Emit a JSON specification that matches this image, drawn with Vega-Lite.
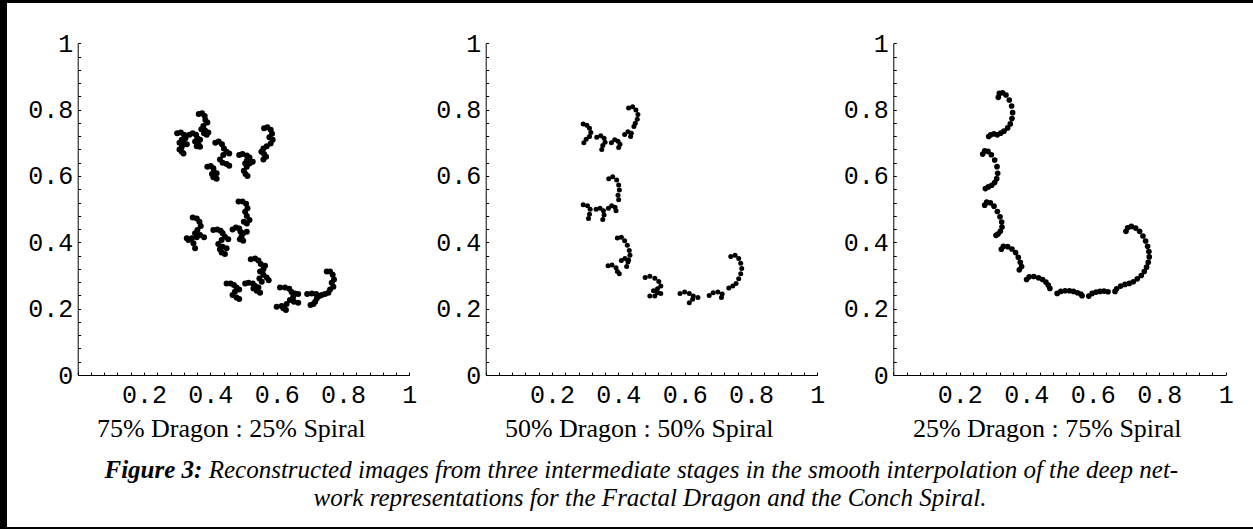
{
  "$schema": "https://vega.github.io/schema/vega-lite/v6.json",
  "width": 1246,
  "height": 524,
  "autosize": {"type": "none"},
  "padding": {"left": 7, "top": 3, "right": 0, "bottom": 2},
  "background": "black",
  "config": {"view": {"fill": "white", "stroke": null}},
  "data": {"values": [
    {"panel":1,"x":0.300,"y":0.729},{"panel":1,"x":0.311,"y":0.731},{"panel":1,"x":0.321,"y":0.724},{"panel":1,"x":0.325,"y":0.714},{"panel":1,"x":0.314,"y":0.709},{"panel":1,"x":0.307,"y":0.700},{"panel":1,"x":0.319,"y":0.698},{"panel":1,"x":0.329,"y":0.696},{"panel":1,"x":0.314,"y":0.688},{"panel":1,"x":0.307,"y":0.680},{"panel":1,"x":0.314,"y":0.673},{"panel":1,"x":0.319,"y":0.668},
    {"panel":1,"x":0.337,"y":0.724},{"panel":1,"x":0.347,"y":0.729},{"panel":1,"x":0.357,"y":0.724},{"panel":1,"x":0.361,"y":0.714},{"panel":1,"x":0.369,"y":0.709},{"panel":1,"x":0.354,"y":0.704},{"panel":1,"x":0.364,"y":0.696},{"panel":1,"x":0.369,"y":0.688},{"panel":1,"x":0.359,"y":0.690},
    {"panel":1,"x":0.365,"y":0.787},{"panel":1,"x":0.375,"y":0.789},{"panel":1,"x":0.383,"y":0.781},{"panel":1,"x":0.385,"y":0.769},{"panel":1,"x":0.391,"y":0.761},{"panel":1,"x":0.379,"y":0.751},{"panel":1,"x":0.373,"y":0.741},{"panel":1,"x":0.384,"y":0.737},{"panel":1,"x":0.394,"y":0.731},{"panel":1,"x":0.389,"y":0.724},{"panel":1,"x":0.381,"y":0.729},
    {"panel":1,"x":0.415,"y":0.700},{"panel":1,"x":0.425,"y":0.704},{"panel":1,"x":0.435,"y":0.696},{"panel":1,"x":0.441,"y":0.683},{"panel":1,"x":0.449,"y":0.673},{"panel":1,"x":0.457,"y":0.668},{"panel":1,"x":0.439,"y":0.663},{"panel":1,"x":0.429,"y":0.650},{"panel":1,"x":0.437,"y":0.640},{"panel":1,"x":0.449,"y":0.636},{"panel":1,"x":0.457,"y":0.631},
    {"panel":1,"x":0.391,"y":0.628},{"panel":1,"x":0.401,"y":0.630},{"panel":1,"x":0.409,"y":0.623},{"panel":1,"x":0.411,"y":0.613},{"panel":1,"x":0.419,"y":0.608},{"panel":1,"x":0.405,"y":0.606},{"panel":1,"x":0.409,"y":0.596},{"panel":1,"x":0.419,"y":0.592},
    {"panel":1,"x":0.487,"y":0.663},{"panel":1,"x":0.497,"y":0.666},{"panel":1,"x":0.510,"y":0.662},{"panel":1,"x":0.518,"y":0.656},{"panel":1,"x":0.510,"y":0.646},{"panel":1,"x":0.505,"y":0.638},{"panel":1,"x":0.518,"y":0.638},{"panel":1,"x":0.528,"y":0.643},{"panel":1,"x":0.510,"y":0.628},{"panel":1,"x":0.501,"y":0.616},{"panel":1,"x":0.506,"y":0.606},{"panel":1,"x":0.512,"y":0.600},
    {"panel":1,"x":0.562,"y":0.744},{"panel":1,"x":0.572,"y":0.747},{"panel":1,"x":0.582,"y":0.739},{"panel":1,"x":0.586,"y":0.727},{"panel":1,"x":0.578,"y":0.717},{"panel":1,"x":0.588,"y":0.709},{"panel":1,"x":0.582,"y":0.698},{"panel":1,"x":0.570,"y":0.690},{"panel":1,"x":0.560,"y":0.683},{"panel":1,"x":0.554,"y":0.673},{"panel":1,"x":0.562,"y":0.666},{"panel":1,"x":0.568,"y":0.658},{"panel":1,"x":0.560,"y":0.650},
    {"panel":1,"x":0.347,"y":0.475},{"panel":1,"x":0.359,"y":0.472},{"panel":1,"x":0.367,"y":0.462},{"panel":1,"x":0.371,"y":0.449},{"panel":1,"x":0.361,"y":0.437},{"panel":1,"x":0.354,"y":0.427},{"panel":1,"x":0.369,"y":0.422},{"panel":1,"x":0.381,"y":0.415},{"panel":1,"x":0.359,"y":0.415},{"panel":1,"x":0.344,"y":0.412},{"panel":1,"x":0.334,"y":0.407},{"panel":1,"x":0.349,"y":0.397},{"panel":1,"x":0.354,"y":0.382},{"panel":1,"x":0.329,"y":0.412},
    {"panel":1,"x":0.409,"y":0.437},{"panel":1,"x":0.421,"y":0.439},{"panel":1,"x":0.431,"y":0.435},{"panel":1,"x":0.437,"y":0.427},{"panel":1,"x":0.444,"y":0.417},{"panel":1,"x":0.454,"y":0.409},{"panel":1,"x":0.434,"y":0.407},{"panel":1,"x":0.424,"y":0.395},{"panel":1,"x":0.437,"y":0.387},{"panel":1,"x":0.449,"y":0.382},{"panel":1,"x":0.429,"y":0.379},{"panel":1,"x":0.434,"y":0.369},{"panel":1,"x":0.444,"y":0.365},
    {"panel":1,"x":0.467,"y":0.439},{"panel":1,"x":0.477,"y":0.445},{"panel":1,"x":0.487,"y":0.442},{"panel":1,"x":0.491,"y":0.432},{"panel":1,"x":0.499,"y":0.427},{"panel":1,"x":0.510,"y":0.432},{"panel":1,"x":0.494,"y":0.417},{"panel":1,"x":0.499,"y":0.405},{"panel":1,"x":0.489,"y":0.409},
    {"panel":1,"x":0.485,"y":0.523},{"panel":1,"x":0.497,"y":0.523},{"panel":1,"x":0.508,"y":0.516},{"panel":1,"x":0.512,"y":0.503},{"panel":1,"x":0.505,"y":0.492},{"panel":1,"x":0.510,"y":0.479},{"panel":1,"x":0.518,"y":0.467},{"panel":1,"x":0.510,"y":0.457},{"panel":1,"x":0.501,"y":0.462},
    {"panel":1,"x":0.449,"y":0.276},{"panel":1,"x":0.461,"y":0.276},{"panel":1,"x":0.471,"y":0.271},{"panel":1,"x":0.479,"y":0.264},{"panel":1,"x":0.487,"y":0.258},{"panel":1,"x":0.474,"y":0.251},{"panel":1,"x":0.467,"y":0.241},{"panel":1,"x":0.479,"y":0.234},{"panel":1,"x":0.487,"y":0.229},
    {"panel":1,"x":0.505,"y":0.276},{"panel":1,"x":0.515,"y":0.278},{"panel":1,"x":0.528,"y":0.276},{"panel":1,"x":0.535,"y":0.268},{"panel":1,"x":0.545,"y":0.264},{"panel":1,"x":0.540,"y":0.254},{"panel":1,"x":0.550,"y":0.248},{"panel":1,"x":0.530,"y":0.261},
    {"panel":1,"x":0.522,"y":0.349},{"panel":1,"x":0.535,"y":0.351},{"panel":1,"x":0.545,"y":0.345},{"panel":1,"x":0.552,"y":0.335},{"panel":1,"x":0.565,"y":0.329},{"panel":1,"x":0.560,"y":0.319},{"panel":1,"x":0.550,"y":0.312},{"panel":1,"x":0.560,"y":0.302},{"panel":1,"x":0.570,"y":0.294},{"panel":1,"x":0.576,"y":0.286},{"panel":1,"x":0.555,"y":0.281},{"panel":1,"x":0.548,"y":0.291},
    {"panel":1,"x":0.610,"y":0.264},{"panel":1,"x":0.625,"y":0.264},{"panel":1,"x":0.638,"y":0.260},{"panel":1,"x":0.645,"y":0.250},{"panel":1,"x":0.655,"y":0.246},{"panel":1,"x":0.665,"y":0.244},{"panel":1,"x":0.650,"y":0.236},{"panel":1,"x":0.640,"y":0.226},{"panel":1,"x":0.652,"y":0.221},{"panel":1,"x":0.665,"y":0.218},{"panel":1,"x":0.630,"y":0.214},{"panel":1,"x":0.615,"y":0.208},{"panel":1,"x":0.600,"y":0.206},{"panel":1,"x":0.620,"y":0.201},{"panel":1,"x":0.628,"y":0.196},
    {"panel":1,"x":0.692,"y":0.244},{"panel":1,"x":0.706,"y":0.246},{"panel":1,"x":0.719,"y":0.244},{"panel":1,"x":0.729,"y":0.238},{"panel":1,"x":0.736,"y":0.241},{"panel":1,"x":0.721,"y":0.231},{"panel":1,"x":0.716,"y":0.221},{"panel":1,"x":0.711,"y":0.214},{"panel":1,"x":0.702,"y":0.211},
    {"panel":1,"x":0.751,"y":0.312},{"panel":1,"x":0.761,"y":0.312},{"panel":1,"x":0.769,"y":0.302},{"panel":1,"x":0.773,"y":0.288},{"panel":1,"x":0.766,"y":0.278},{"panel":1,"x":0.771,"y":0.266},{"panel":1,"x":0.761,"y":0.258},{"panel":1,"x":0.756,"y":0.248},{"panel":1,"x":0.746,"y":0.244},

    {"panel":2,"x":0.294,"y":0.757},{"panel":2,"x":0.305,"y":0.753},{"panel":2,"x":0.313,"y":0.744},{"panel":2,"x":0.317,"y":0.731},{"panel":2,"x":0.313,"y":0.719},{"panel":2,"x":0.303,"y":0.711},{"panel":2,"x":0.296,"y":0.700},
    {"panel":2,"x":0.335,"y":0.717},{"panel":2,"x":0.347,"y":0.721},{"panel":2,"x":0.357,"y":0.714},{"panel":2,"x":0.360,"y":0.702},{"panel":2,"x":0.353,"y":0.692},{"panel":2,"x":0.350,"y":0.680},
    {"panel":2,"x":0.379,"y":0.700},{"panel":2,"x":0.389,"y":0.709},{"panel":2,"x":0.399,"y":0.705},{"panel":2,"x":0.405,"y":0.696},{"panel":2,"x":0.401,"y":0.686},
    {"panel":2,"x":0.419,"y":0.725},{"panel":2,"x":0.429,"y":0.733},{"panel":2,"x":0.439,"y":0.729},{"panel":2,"x":0.437,"y":0.719},
    {"panel":2,"x":0.431,"y":0.805},{"panel":2,"x":0.443,"y":0.809},{"panel":2,"x":0.453,"y":0.799},{"panel":2,"x":0.459,"y":0.785},{"panel":2,"x":0.457,"y":0.771},{"panel":2,"x":0.451,"y":0.759},{"panel":2,"x":0.447,"y":0.749},
    {"panel":2,"x":0.371,"y":0.592},{"panel":2,"x":0.383,"y":0.598},{"panel":2,"x":0.395,"y":0.588},{"panel":2,"x":0.401,"y":0.573},{"panel":2,"x":0.403,"y":0.558},{"panel":2,"x":0.399,"y":0.542},{"panel":2,"x":0.401,"y":0.528},
    {"panel":2,"x":0.294,"y":0.513},{"panel":2,"x":0.307,"y":0.510},{"panel":2,"x":0.315,"y":0.500},{"panel":2,"x":0.313,"y":0.485},{"panel":2,"x":0.310,"y":0.472},
    {"panel":2,"x":0.333,"y":0.500},{"panel":2,"x":0.345,"y":0.503},{"panel":2,"x":0.355,"y":0.495},{"panel":2,"x":0.357,"y":0.482},{"panel":2,"x":0.353,"y":0.469},
    {"panel":2,"x":0.370,"y":0.503},{"panel":2,"x":0.380,"y":0.510},{"panel":2,"x":0.390,"y":0.506},{"panel":2,"x":0.393,"y":0.495},
    {"panel":2,"x":0.397,"y":0.413},{"panel":2,"x":0.409,"y":0.415},{"panel":2,"x":0.419,"y":0.405},{"panel":2,"x":0.427,"y":0.391},{"panel":2,"x":0.433,"y":0.375},{"panel":2,"x":0.435,"y":0.361},{"panel":2,"x":0.431,"y":0.347},
    {"panel":2,"x":0.369,"y":0.329},{"panel":2,"x":0.381,"y":0.332},{"panel":2,"x":0.393,"y":0.323},{"panel":2,"x":0.397,"y":0.312},{"panel":2,"x":0.403,"y":0.305},
    {"panel":2,"x":0.409,"y":0.345},{"panel":2,"x":0.420,"y":0.351},{"panel":2,"x":0.429,"y":0.341},{"panel":2,"x":0.425,"y":0.327},
    {"panel":2,"x":0.481,"y":0.294},{"panel":2,"x":0.495,"y":0.298},{"panel":2,"x":0.510,"y":0.292},{"panel":2,"x":0.522,"y":0.282},{"panel":2,"x":0.528,"y":0.268},{"panel":2,"x":0.518,"y":0.260},{"panel":2,"x":0.506,"y":0.254},{"panel":2,"x":0.518,"y":0.248},{"panel":2,"x":0.528,"y":0.246},{"panel":2,"x":0.510,"y":0.238},{"panel":2,"x":0.495,"y":0.238},
    {"panel":2,"x":0.586,"y":0.246},{"panel":2,"x":0.600,"y":0.250},{"panel":2,"x":0.614,"y":0.246},{"panel":2,"x":0.626,"y":0.238},{"panel":2,"x":0.640,"y":0.234},{"panel":2,"x":0.624,"y":0.228},{"panel":2,"x":0.614,"y":0.218},
    {"panel":2,"x":0.674,"y":0.240},{"panel":2,"x":0.686,"y":0.248},{"panel":2,"x":0.700,"y":0.250},{"panel":2,"x":0.713,"y":0.244},{"panel":2,"x":0.711,"y":0.234},
    {"panel":2,"x":0.739,"y":0.357},{"panel":2,"x":0.752,"y":0.361},{"panel":2,"x":0.763,"y":0.351},{"panel":2,"x":0.769,"y":0.337},{"panel":2,"x":0.772,"y":0.321},{"panel":2,"x":0.769,"y":0.305},{"panel":2,"x":0.763,"y":0.290},{"panel":2,"x":0.755,"y":0.276},{"panel":2,"x":0.745,"y":0.268},{"panel":2,"x":0.733,"y":0.262},

    {"panel":3,"x":0.316,"y":0.837},{"panel":3,"x":0.319,"y":0.849},{"panel":3,"x":0.329,"y":0.851},{"panel":3,"x":0.339,"y":0.844},{"panel":3,"x":0.349,"y":0.829},{"panel":3,"x":0.356,"y":0.811},{"panel":3,"x":0.359,"y":0.791},{"panel":3,"x":0.357,"y":0.773},{"panel":3,"x":0.352,"y":0.757},{"panel":3,"x":0.344,"y":0.745},{"panel":3,"x":0.333,"y":0.735},{"panel":3,"x":0.323,"y":0.729},{"panel":3,"x":0.313,"y":0.724},{"panel":3,"x":0.303,"y":0.727},{"panel":3,"x":0.293,"y":0.724},{"panel":3,"x":0.287,"y":0.719},
    {"panel":3,"x":0.269,"y":0.666},{"panel":3,"x":0.275,"y":0.676},{"panel":3,"x":0.285,"y":0.674},{"panel":3,"x":0.295,"y":0.664},{"panel":3,"x":0.305,"y":0.648},{"panel":3,"x":0.312,"y":0.628},{"panel":3,"x":0.314,"y":0.608},{"panel":3,"x":0.311,"y":0.592},{"panel":3,"x":0.305,"y":0.580},{"panel":3,"x":0.296,"y":0.572},{"panel":3,"x":0.286,"y":0.567},{"panel":3,"x":0.277,"y":0.562},
    {"panel":3,"x":0.275,"y":0.512},{"panel":3,"x":0.281,"y":0.521},{"panel":3,"x":0.292,"y":0.519},{"panel":3,"x":0.303,"y":0.509},{"panel":3,"x":0.313,"y":0.493},{"panel":3,"x":0.321,"y":0.477},{"panel":3,"x":0.326,"y":0.461},{"panel":3,"x":0.327,"y":0.446},{"panel":3,"x":0.322,"y":0.433},{"panel":3,"x":0.315,"y":0.425},{"panel":3,"x":0.309,"y":0.421},
    {"panel":3,"x":0.325,"y":0.379},{"panel":3,"x":0.331,"y":0.388},{"panel":3,"x":0.344,"y":0.387},{"panel":3,"x":0.357,"y":0.380},{"panel":3,"x":0.368,"y":0.369},{"panel":3,"x":0.376,"y":0.355},{"panel":3,"x":0.382,"y":0.340},{"panel":3,"x":0.386,"y":0.327},{"panel":3,"x":0.379,"y":0.317},
    {"panel":3,"x":0.401,"y":0.288},{"panel":3,"x":0.409,"y":0.296},{"panel":3,"x":0.423,"y":0.297},{"panel":3,"x":0.437,"y":0.293},{"panel":3,"x":0.449,"y":0.288},{"panel":3,"x":0.459,"y":0.280},{"panel":3,"x":0.466,"y":0.271},{"panel":3,"x":0.471,"y":0.261},
    {"panel":3,"x":0.493,"y":0.246},{"panel":3,"x":0.504,"y":0.252},{"panel":3,"x":0.517,"y":0.254},{"panel":3,"x":0.530,"y":0.254},{"panel":3,"x":0.542,"y":0.252},{"panel":3,"x":0.554,"y":0.248},{"panel":3,"x":0.564,"y":0.244},{"panel":3,"x":0.568,"y":0.239},
    {"panel":3,"x":0.588,"y":0.238},{"panel":3,"x":0.598,"y":0.246},{"panel":3,"x":0.610,"y":0.250},{"panel":3,"x":0.622,"y":0.252},{"panel":3,"x":0.634,"y":0.253},{"panel":3,"x":0.646,"y":0.251},
    {"panel":3,"x":0.700,"y":0.433},{"panel":3,"x":0.705,"y":0.444},{"panel":3,"x":0.716,"y":0.448},{"panel":3,"x":0.729,"y":0.443},{"panel":3,"x":0.741,"y":0.433},{"panel":3,"x":0.751,"y":0.419},{"panel":3,"x":0.759,"y":0.404},{"panel":3,"x":0.765,"y":0.388},{"panel":3,"x":0.769,"y":0.372},{"panel":3,"x":0.770,"y":0.356},{"panel":3,"x":0.767,"y":0.340},{"panel":3,"x":0.762,"y":0.325},{"panel":3,"x":0.755,"y":0.312},{"panel":3,"x":0.746,"y":0.300},{"panel":3,"x":0.734,"y":0.290},{"panel":3,"x":0.722,"y":0.281},{"panel":3,"x":0.710,"y":0.276},{"panel":3,"x":0.697,"y":0.273},{"panel":3,"x":0.684,"y":0.268},{"panel":3,"x":0.672,"y":0.260},{"panel":3,"x":0.667,"y":0.252}
  ]},
  "resolve": {
    "scale": {"x": "independent", "y": "independent"},
    "axis": {"x": "independent", "y": "independent"}
  },
  "layer": [
    {
      "transform": [{"filter": "datum.panel == 1"}],
      "mark": {"type": "circle", "size": 36, "color": "black", "opacity": 1},
      "encoding": {
        "x": {"field": "x", "type": "quantitative",
          "scale": {"domain": [0, 1], "range": [70.7, 402.3], "nice": false, "zero": false},
          "axis": {"orient": "bottom", "offset": -152,
            "values": [0,0.04,0.08,0.12,0.16,0.2,0.24,0.28,0.32,0.36,0.4,0.44,0.48,0.52,0.56,0.6,0.64,0.68,0.72,0.76,0.8,0.84,0.88,0.92,0.96,1],
            "labelExpr": "datum.value > 0.01 && abs(datum.value*5 - round(datum.value*5)) < 0.01 ? (datum.value > 0.99 ? '1' : format(datum.value, '.1f')) : ''",
            "grid": false, "tickSize": -3, "tickColor": "black", "domainColor": "black",
            "labelPadding": 10, "labelFont": "Liberation Mono", "labelFontSize": 25, "labelColor": "black",
            "labelFlush": false, "labelOverlap": false, "labelBound": false,
            "title": "75% Dragon : 25% Spiral", "titleFont": "Liberation Serif", "titleFontSize": 26, "titleFontWeight": "normal", "titleColor": "black",
            "titleX": 223.7, "titleY": 61.7, "titleAlign": "center", "titleBaseline": "alphabetic", "titleLimit": 2000}},
        "y": {"field": "y", "type": "quantitative",
          "scale": {"domain": [0, 1], "range": [372, 40.3], "nice": false, "zero": false},
          "axis": {"orient": "left", "offset": -70.7,
            "values": [0,0.04,0.08,0.12,0.16,0.2,0.24,0.28,0.32,0.36,0.4,0.44,0.48,0.52,0.56,0.6,0.64,0.68,0.72,0.76,0.8,0.84,0.88,0.92,0.96,1],
            "labelExpr": "abs(datum.value*5 - round(datum.value*5)) < 0.01 ? (datum.value < 0.01 ? '0' : datum.value > 0.99 ? '1' : format(datum.value, '.1f')) : ''",
            "grid": false, "tickSize": -3, "tickColor": "black", "domainColor": "black",
            "labelPadding": 8, "labelFont": "Liberation Mono", "labelFontSize": 25, "labelColor": "black",
            "labelAlign": "right", "labelBaseline": "middle",
            "labelFlush": false, "labelOverlap": false, "labelBound": false,
            "title": "Figure 3:", "titleFont": "Liberation Serif", "titleFontSize": 25, "titleFontWeight": "bold", "titleFontStyle": "italic", "titleColor": "black",
            "titleAngle": 0, "titleX": 26.3, "titleY": 474, "titleAlign": "left", "titleBaseline": "alphabetic", "titleLimit": 2000}}
      }
    },
    {
      "transform": [{"filter": "datum.panel == 2"}],
      "mark": {"type": "circle", "size": 25, "color": "black", "opacity": 1},
      "encoding": {
        "x": {"field": "x", "type": "quantitative",
          "scale": {"domain": [0, 1], "range": [478.7, 810.3], "nice": false, "zero": false},
          "axis": {"orient": "bottom", "offset": -152,
            "values": [0,0.04,0.08,0.12,0.16,0.2,0.24,0.28,0.32,0.36,0.4,0.44,0.48,0.52,0.56,0.6,0.64,0.68,0.72,0.76,0.8,0.84,0.88,0.92,0.96,1],
            "labelExpr": "datum.value > 0.01 && abs(datum.value*5 - round(datum.value*5)) < 0.01 ? (datum.value > 0.99 ? '1' : format(datum.value, '.1f')) : ''",
            "grid": false, "tickSize": -3, "tickColor": "black", "domainColor": "black",
            "labelPadding": 10, "labelFont": "Liberation Mono", "labelFontSize": 25, "labelColor": "black",
            "labelFlush": false, "labelOverlap": false, "labelBound": false,
            "title": "50% Dragon : 50% Spiral", "titleFont": "Liberation Serif", "titleFontSize": 26, "titleFontWeight": "normal", "titleColor": "black",
            "titleX": 631.7, "titleY": 61.7, "titleAlign": "center", "titleBaseline": "alphabetic", "titleLimit": 2000}},
        "y": {"field": "y", "type": "quantitative",
          "scale": {"domain": [0, 1], "range": [372, 40.3], "nice": false, "zero": false},
          "axis": {"orient": "left", "offset": -478.7,
            "values": [0,0.04,0.08,0.12,0.16,0.2,0.24,0.28,0.32,0.36,0.4,0.44,0.48,0.52,0.56,0.6,0.64,0.68,0.72,0.76,0.8,0.84,0.88,0.92,0.96,1],
            "labelExpr": "abs(datum.value*5 - round(datum.value*5)) < 0.01 ? (datum.value < 0.01 ? '0' : datum.value > 0.99 ? '1' : format(datum.value, '.1f')) : ''",
            "grid": false, "tickSize": -3, "tickColor": "black", "domainColor": "black",
            "labelPadding": 8, "labelFont": "Liberation Mono", "labelFontSize": 25, "labelColor": "black",
            "labelAlign": "right", "labelBaseline": "middle",
            "labelFlush": false, "labelOverlap": false, "labelBound": false,
            "title": "Reconstructed images from three intermediate stages in the smooth interpolation of the deep net-", "titleFont": "Liberation Serif", "titleFontSize": 25, "titleFontWeight": "normal", "titleFontStyle": "italic", "titleColor": "black",
            "titleAngle": 0, "titleX": -277.5, "titleY": 474, "titleAlign": "left", "titleBaseline": "alphabetic", "titleLimit": 2000}}
      }
    },
    {
      "transform": [{"filter": "datum.panel == 3"}],
      "mark": {"type": "circle", "size": 32, "color": "black", "opacity": 1},
      "encoding": {
        "x": {"field": "x", "type": "quantitative",
          "scale": {"domain": [0, 1], "range": [886.3, 1218.7], "nice": false, "zero": false},
          "axis": {"orient": "bottom", "offset": -152,
            "values": [0,0.04,0.08,0.12,0.16,0.2,0.24,0.28,0.32,0.36,0.4,0.44,0.48,0.52,0.56,0.6,0.64,0.68,0.72,0.76,0.8,0.84,0.88,0.92,0.96,1],
            "labelExpr": "datum.value > 0.01 && abs(datum.value*5 - round(datum.value*5)) < 0.01 ? (datum.value > 0.99 ? '1' : format(datum.value, '.1f')) : ''",
            "grid": false, "tickSize": -3, "tickColor": "black", "domainColor": "black",
            "labelPadding": 10, "labelFont": "Liberation Mono", "labelFontSize": 25, "labelColor": "black",
            "labelFlush": false, "labelOverlap": false, "labelBound": false,
            "title": "25% Dragon : 75% Spiral", "titleFont": "Liberation Serif", "titleFontSize": 26, "titleFontWeight": "normal", "titleColor": "black",
            "titleX": 1039.7, "titleY": 61.7, "titleAlign": "center", "titleBaseline": "alphabetic", "titleLimit": 2000}},
        "y": {"field": "y", "type": "quantitative",
          "scale": {"domain": [0, 1], "range": [372, 40.3], "nice": false, "zero": false},
          "axis": {"orient": "left", "offset": -886.3,
            "values": [0,0.04,0.08,0.12,0.16,0.2,0.24,0.28,0.32,0.36,0.4,0.44,0.48,0.52,0.56,0.6,0.64,0.68,0.72,0.76,0.8,0.84,0.88,0.92,0.96,1],
            "labelExpr": "abs(datum.value*5 - round(datum.value*5)) < 0.01 ? (datum.value < 0.01 ? '0' : datum.value > 0.99 ? '1' : format(datum.value, '.1f')) : ''",
            "grid": false, "tickSize": -3, "tickColor": "black", "domainColor": "black",
            "labelPadding": 8, "labelFont": "Liberation Mono", "labelFontSize": 25, "labelColor": "black",
            "labelAlign": "right", "labelBaseline": "middle",
            "labelFlush": false, "labelOverlap": false, "labelBound": false,
            "title": "work representations for the Fractal Dragon and the Conch Spiral.", "titleFont": "Liberation Serif", "titleFontSize": 25, "titleFontWeight": "normal", "titleFontStyle": "italic", "titleColor": "black",
            "titleAngle": 0, "titleX": -243.8, "titleY": 502, "titleAlign": "center", "titleBaseline": "alphabetic", "titleLimit": 2000}}
      }
    }
  ]
}
